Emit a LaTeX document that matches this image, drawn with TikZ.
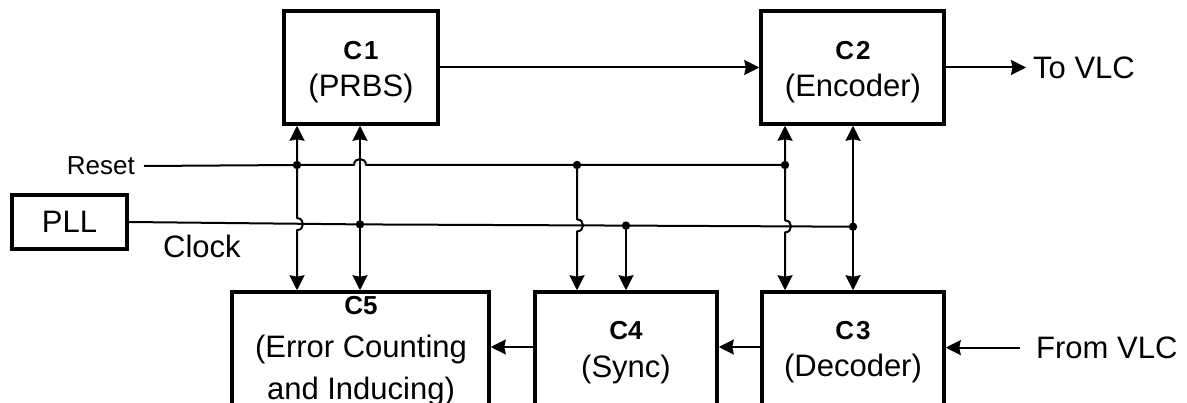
\documentclass[tikz,border=0pt]{standalone}
\usepackage{fontspec}
\setmainfont{Liberation Sans}
\usetikzlibrary{arrows.meta,calc}
\newcommand\rgfont{\fontsize{31}{37.5}\selectfont}
\newcommand\rgwide{\fontsize{31}{42.5}\selectfont}
\newcommand\bdfont{\fontsize{26}{30}\selectfont\bfseries}
\tikzset{
  box/.style={draw, line width=3.5pt, inner sep=0pt},
  txt/.style={inner sep=0pt, align=center, font=\rgfont},
  wire/.style={line width=2pt, line join=round},
  dotfill/.style={fill=black},
}
\begin{document}
\begin{tikzpicture}[x=1pt,y=-1pt,>={Stealth[length=15pt,width=15pt,inset=1.5pt]}]
\useasboundingbox (0,0) rectangle (1187,403);
\clip (0,0) rectangle (1187,403);

% boxes
\node[box, minimum width=154pt, minimum height=113pt] (c1) at (361,67.5) {};
\node[box, minimum width=183pt, minimum height=113pt] (c2) at (852.5,67.5) {};
\node[box, minimum width=257pt, minimum height=138pt] (c5) at (360.5,361) {};
\node[box, minimum width=182pt, minimum height=138pt] (c4) at (626,361) {};
\node[box, minimum width=182pt, minimum height=138pt] (c3) at (853,361) {};
\node[box, line width=3.3pt, minimum width=115pt, minimum height=54pt, font=\rgfont] (pll) at (69.5,222) {PLL};

% box texts
\node[txt, anchor=north] (c1t) at (361,41) {{\bdfont C\kern2pt1}\\(PRBS)};
\node[txt, anchor=north] (c2t) at (853,41) {{\bdfont C\kern2pt2}\\(Encoder)};
\node[txt, anchor=north, font=\rgwide] (c5t) at (361,296.5) {{\bdfont C5}\\(Error Counting\\and Inducing)};
\node[txt, anchor=north] (c4t) at (626,321.5) {{\bdfont C4}\\(Sync)};
\node[txt, anchor=north] (c3t) at (853,321) {{\bdfont C\kern2pt3}\\(Decoder)};

% free labels
\node[inner sep=0pt, anchor=east, font=\fontsize{26}{30}\selectfont] (reset) at (135,166) {Reset};
\node[inner sep=0pt, anchor=base west, font=\rgfont] (clock) at (163,258) {Clock};
\node[inner sep=0pt, anchor=base west, font=\rgfont] (tovlc) at (1033,78.3) {To VLC};
\node[inner sep=0pt, anchor=base west, font=\rgfont] (fromvlc) at (1036,358.3) {From VLC};

% junction coordinates
\coordinate (r1) at (297,165);
\coordinate (r3) at (577,165);
\coordinate (r5) at (785,165);
\coordinate (k2) at (360,224.4);
\coordinate (k4) at (626,225.6);
\coordinate (k6) at (853,226.7);
\coordinate (row) at (0,347);

% horizontal signal flow
\draw[wire,->] (c1.east) -- (c2.west);
\draw[wire,->,shorten >=7pt] (c2.east) -- (c2.east -| tovlc.west);
\draw[wire,->,shorten <=16pt] (fromvlc.west) -- (c3.east |- fromvlc.west);
\draw[wire,->] (c3.west |- row) -- (c4.east |- row);
\draw[wire,->] (c4.west |- row) -- (c5.east |- row);

% reset line (hump over x=360)
\draw[wire] ([xshift=9pt]reset.east) -- (r1) -- (354,165) .. controls (354,157) and (366,157) .. (366,165) -- (r3) -- (r5);
% clock line
\draw[wire] (pll.east) -- (k2) -- (k4) -- (k6);

% verticals
\draw[wire,<->] (c1.south -| r1) -- (r1) -- (297,218.1) .. controls (305,218.1) and (305,230.1) .. (297,230.1) -- (c5.north -| r1);
\draw[wire,<->] (c1.south -| k2) -- (k2) -- (c5.north -| k2);
\draw[wire,->] (r3) -- (577,219.4) .. controls (585,219.4) and (585,231.4) .. (577,231.4) -- (c4.north -| r3);
\draw[wire,->] (k4) -- (c4.north -| k4);
\draw[wire,<->] (c2.south -| r5) -- (r5) -- (785,220.4) .. controls (793,220.4) and (793,232.4) .. (785,232.4) -- (c3.north -| r5);
\draw[wire,<->] (c2.south -| k6) -- (k6) -- (c3.north -| k6);

% junction dots
\foreach \p in {r1,r3,r5,k2,k4,k6} \fill[dotfill] (\p) circle[radius=4.2pt];
\end{tikzpicture}
\end{document}
